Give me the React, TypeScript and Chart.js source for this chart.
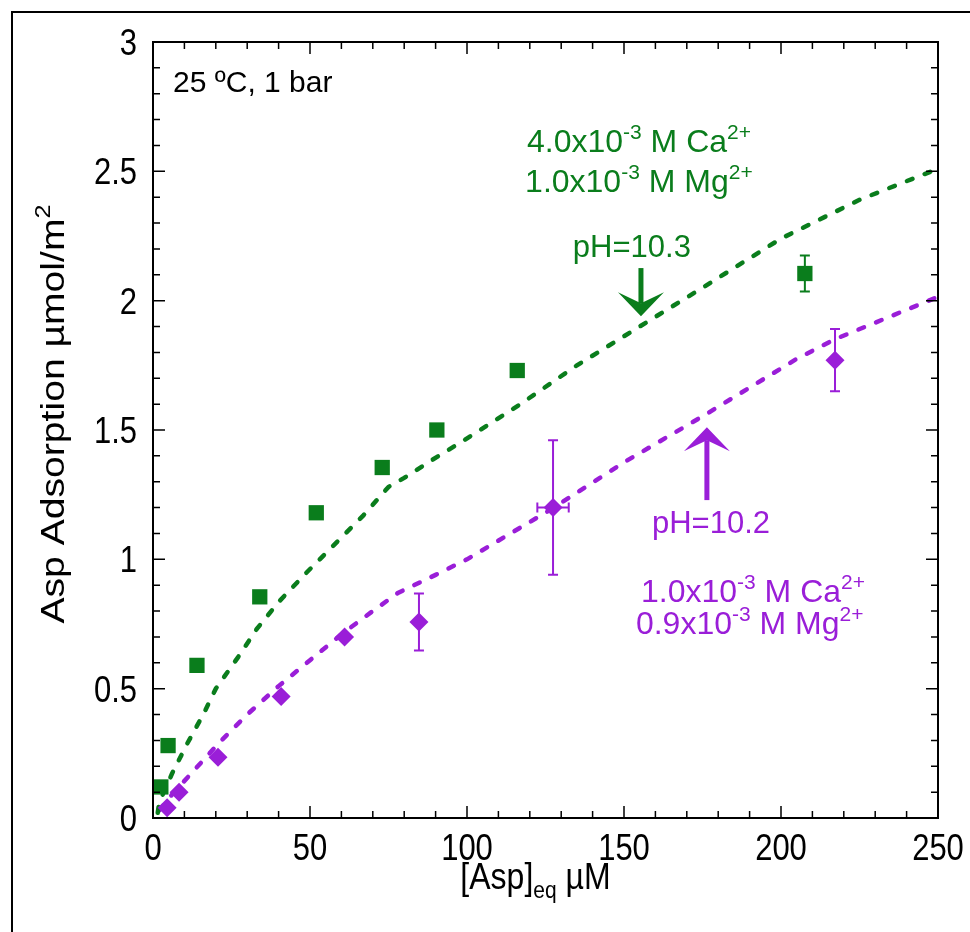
import React, { useEffect, useRef } from 'react';
import { Chart, registerables } from 'chart.js';

Chart.register(...registerables);

// ---------- data ----------
const GREEN = '#0A7D1C';
const PURPLE = '#9A1ED8';
const FONT = "'Liberation Sans', Arial, Helvetica, sans-serif";

const X_MIN = 0;
const X_MAX = 250;
const Y_MIN = 0;
const Y_MAX = 3;
const X_MAJOR = 50;
const X_MINOR = 10;
const Y_MAJOR = 0.5;
const Y_MINOR = 0.1;

// pH 10.3 (green squares)
const greenX = [2.5, 4.8, 14, 34, 52, 73, 90.4, 116, 207.6];
const greenY = [0.12, 0.28, 0.59, 0.855, 1.18, 1.355, 1.5, 1.73, 2.105];
const greenErrY = [0, 0, 0, 0, 0, 0.02, 0, 0, 0.07];
const greenErrX = [0, 0, 0, 0, 0, 0, 0, 0, 0];

// pH 10.2 (purple diamonds)
const purpleX = [4.5, 8.3, 20.7, 40.8, 61, 84.7, 127.4, 217.2];
const purpleY = [0.04, 0.1, 0.235, 0.47, 0.7, 0.758, 1.2, 1.77];
const purpleErrY = [0, 0, 0, 0, 0, 0.11, 0.26, 0.12];
const purpleErrX = [0, 0, 0, 0, 0, 0, 5, 0];

// model curves (dashed)
const greenFitX = [1.5, 2, 6, 11, 16, 20, 27, 33, 40, 49, 58, 67, 75, 80, 89, 99, 117, 135, 155, 175, 200, 225, 250];
const greenFitY = [0.02, 0.06, 0.17, 0.29, 0.4, 0.5, 0.62, 0.73, 0.835, 0.95, 1.06, 1.17, 1.28, 1.315, 1.385, 1.46, 1.6, 1.75, 1.9, 2.05, 2.24, 2.39, 2.51];
const purpleFitX = [2, 6, 12, 21, 30, 40, 50, 60, 70, 78, 90, 100, 127, 150, 176, 205, 217, 250];
const purpleFitY = [0.03, 0.09, 0.17, 0.29, 0.4, 0.51, 0.61, 0.71, 0.8, 0.87, 0.94, 1.0, 1.195, 1.375, 1.56, 1.775, 1.85, 2.015];

// arrows (data coordinates)
const greenArrowX = 155.4;
const greenArrowTail = 2.126;
const greenArrowTip = 1.94;
const purpleArrowX = 176.4;
const purpleArrowTail = 1.229;
const purpleArrowTip = 1.511;

type Seg = { t: string; s?: 'sup' | 'sub' };

// annotations: [x, y] anchors in data coordinates
const condText: Seg[] = [{ t: '25 ºC, 1 bar' }];
const condPos = [6.4, 2.806];
const greenLine1: Seg[] = [{ t: '4.0x10' }, { t: '-3', s: 'sup' }, { t: ' M Ca' }, { t: '2+', s: 'sup' }];
const greenLine1Pos = [119.1, 2.574];
const greenLine2: Seg[] = [{ t: '1.0x10' }, { t: '-3', s: 'sup' }, { t: ' M Mg' }, { t: '2+', s: 'sup' }];
const greenLine2Pos = [118.5, 2.42];
const greenPH: Seg[] = [{ t: 'pH=10.3' }];
const greenPHPos = [152.5, 2.169];
const purplePH: Seg[] = [{ t: 'pH=10.2' }];
const purplePHPos = [177.7, 1.102];
const purpleLine1: Seg[] = [{ t: '1.0x10' }, { t: '-3', s: 'sup' }, { t: ' M Ca' }, { t: '2+', s: 'sup' }];
const purpleLine1Pos = [155.4, 0.835];
const purpleLine2: Seg[] = [{ t: '0.9x10' }, { t: '-3', s: 'sup' }, { t: ' M Mg' }, { t: '2+', s: 'sup' }];
const purpleLine2Pos = [153.8, 0.711];

const xTitle: Seg[] = [{ t: '[Asp]' }, { t: 'eq', s: 'sub' }, { t: ' µM' }];
const yTitle: Seg[] = [{ t: 'Asp Adsorption µmol/m' }, { t: '2', s: 'sup' }];

// ---------- helpers ----------
function segFont(size: number, s?: string) {
  const sz = s ? Math.round(size * 0.66) : size;
  return `${sz}px ${FONT}`;
}

function richWidth(ctx: CanvasRenderingContext2D, segs: Seg[], size: number) {
  let w = 0;
  for (const sg of segs) {
    ctx.font = segFont(size, sg.s);
    w += ctx.measureText(sg.t).width;
  }
  return w;
}

// draws rich text with baseline at (x, y); sx/sy stretch glyphs
function drawRich(
  ctx: CanvasRenderingContext2D,
  segs: Seg[],
  x: number,
  y: number,
  size: number,
  color: string,
  align: 'left' | 'center' = 'left',
  sx = 1,
  sy = 1
) {
  ctx.save();
  ctx.translate(x, y);
  ctx.scale(sx, sy);
  ctx.fillStyle = color;
  ctx.textBaseline = 'alphabetic';
  ctx.textAlign = 'left';
  let cx = 0;
  if (align === 'center') cx = -richWidth(ctx, segs, size) / 2;
  for (const sg of segs) {
    ctx.font = segFont(size, sg.s);
    let dy = 0;
    if (sg.s === 'sup') dy = -size * 0.42;
    if (sg.s === 'sub') dy = size * 0.25;
    ctx.fillText(sg.t, cx, dy);
    cx += ctx.measureText(sg.t).width;
  }
  ctx.restore();
}

function drawErrorBars(
  ctx: CanvasRenderingContext2D,
  xs: number[],
  ys: number[],
  ex: number[],
  ey: number[],
  color: string,
  xs_: any,
  ys_: any
) {
  ctx.save();
  ctx.strokeStyle = color;
  ctx.lineWidth = 2;
  const cap = 5;
  for (let i = 0; i < xs.length; i++) {
    const px = xs_.getPixelForValue(xs[i]);
    const py = ys_.getPixelForValue(ys[i]);
    if (ey[i] > 0) {
      const t = ys_.getPixelForValue(ys[i] + ey[i]);
      const b = ys_.getPixelForValue(ys[i] - ey[i]);
      ctx.beginPath();
      ctx.moveTo(px, t);
      ctx.lineTo(px, b);
      ctx.moveTo(px - cap, t);
      ctx.lineTo(px + cap, t);
      ctx.moveTo(px - cap, b);
      ctx.lineTo(px + cap, b);
      ctx.stroke();
    }
    if (ex[i] > 0) {
      const l = xs_.getPixelForValue(xs[i] - ex[i]);
      const r = xs_.getPixelForValue(xs[i] + ex[i]);
      ctx.beginPath();
      ctx.moveTo(l, py);
      ctx.lineTo(r, py);
      ctx.moveTo(l, py - cap);
      ctx.lineTo(l, py + cap);
      ctx.moveTo(r, py - cap);
      ctx.lineTo(r, py + cap);
      ctx.stroke();
    }
  }
  ctx.restore();
}

function drawArrow(ctx: CanvasRenderingContext2D, px: number, tail: number, tip: number, color: string) {
  const dir = tip > tail ? 1 : -1; // +1 pointing down in pixels
  const headLen = 24;
  const notch = 13;
  const half = 23;
  const shaft = 5;
  ctx.save();
  ctx.fillStyle = color;
  ctx.fillRect(px - shaft / 2, Math.min(tail, tip - dir * notch), shaft, Math.abs(tip - dir * notch - tail));
  ctx.beginPath();
  ctx.moveTo(px, tip);
  ctx.lineTo(px - half, tip - dir * headLen);
  ctx.lineTo(px, tip - dir * notch);
  ctx.lineTo(px + half, tip - dir * headLen);
  ctx.closePath();
  ctx.fill();
  ctx.restore();
}

const TICK_SIZE = 31;
const TICK_SY = 1.18;

const decoPlugin = {
  id: 'deco',
  beforeDatasetsDraw(chart: any) {
    const { ctx, scales } = chart;
    const xs = scales.x;
    const ys = scales.y;
    ctx.save();
    const a = chart.chartArea;
    ctx.beginPath();
    ctx.rect(a.left, a.top, a.right - a.left, a.bottom - a.top);
    ctx.clip();
    drawErrorBars(ctx, greenX, greenY, greenErrX, greenErrY, GREEN, xs, ys);
    drawErrorBars(ctx, purpleX, purpleY, purpleErrX, purpleErrY, PURPLE, xs, ys);
    ctx.restore();
  },
  afterDraw(chart: any) {
    const { ctx, scales, chartArea: a } = chart;
    const xs = scales.x;
    const ys = scales.y;
    const P = (x: number, y: number) => [xs.getPixelForValue(x), ys.getPixelForValue(y)];

    ctx.save();
    // outer figure border
    ctx.strokeStyle = '#000';
    ctx.lineWidth = 2;
    ctx.beginPath();
    ctx.moveTo(12, chart.height);
    ctx.lineTo(12, 12);
    ctx.lineTo(chart.width, 12);
    ctx.stroke();

    // plot frame
    ctx.lineWidth = 2;
    ctx.strokeRect(a.left, a.top, a.right - a.left, a.bottom - a.top);

    // ticks (inward, mirrored)
    ctx.lineWidth = 1.5;
    ctx.beginPath();
    const nx = Math.round((X_MAX - X_MIN) / X_MINOR);
    for (let i = 0; i <= nx; i++) {
      const v = X_MIN + i * X_MINOR;
      const major = Math.abs(v / X_MAJOR - Math.round(v / X_MAJOR)) < 1e-6;
      const L = major ? 12 : 7;
      const px = xs.getPixelForValue(v);
      ctx.moveTo(px, a.bottom);
      ctx.lineTo(px, a.bottom - L);
      ctx.moveTo(px, a.top);
      ctx.lineTo(px, a.top + L);
    }
    const ny = Math.round((Y_MAX - Y_MIN) / Y_MINOR);
    for (let i = 0; i <= ny; i++) {
      const v = Y_MIN + i * Y_MINOR;
      const major = Math.abs(v / Y_MAJOR - Math.round(v / Y_MAJOR)) < 1e-6;
      const L = major ? 12 : 7;
      const py = ys.getPixelForValue(v);
      ctx.moveTo(a.left, py);
      ctx.lineTo(a.left + L, py);
      ctx.moveTo(a.right, py);
      ctx.lineTo(a.right - L, py);
    }
    ctx.stroke();

    // tick labels from the scales' own ticks
    ctx.fillStyle = '#000';
    ctx.font = `${TICK_SIZE}px ${FONT}`;
    ctx.textBaseline = 'alphabetic';
    const half = 0.358 * TICK_SIZE * TICK_SY;
    for (const t of ys.ticks) {
      const py = ys.getPixelForValue(t.value);
      ctx.save();
      ctx.translate(a.left - 16, py + half);
      ctx.scale(1, TICK_SY);
      ctx.textAlign = 'right';
      ctx.fillText(String(t.label), 0, 0);
      ctx.restore();
    }
    for (const t of xs.ticks) {
      const px = xs.getPixelForValue(t.value);
      ctx.save();
      ctx.translate(px, a.bottom + 29 + half);
      ctx.scale(1, TICK_SY);
      ctx.textAlign = 'center';
      ctx.fillText(String(t.label), 0, 0);
      ctx.restore();
    }

    // axis titles
    drawRich(ctx, xTitle, (a.left + a.right) / 2 - 10, 889, 32, '#000', 'center', 1, TICK_SY);
    ctx.save();
    ctx.translate(64, 414);
    ctx.rotate(-Math.PI / 2);
    drawRich(ctx, yTitle, 0, 0, 34, '#000', 'center', 1.15, 1);
    ctx.restore();

    // annotations
    let p = P(condPos[0], condPos[1]);
    drawRich(ctx, condText, p[0], p[1], 30, '#000');
    p = P(greenLine1Pos[0], greenLine1Pos[1]);
    drawRich(ctx, greenLine1, p[0], p[1], 32, GREEN);
    p = P(greenLine2Pos[0], greenLine2Pos[1]);
    drawRich(ctx, greenLine2, p[0], p[1], 32, GREEN);
    p = P(greenPHPos[0], greenPHPos[1]);
    drawRich(ctx, greenPH, p[0], p[1], 31, GREEN, 'center');
    p = P(purplePHPos[0], purplePHPos[1]);
    drawRich(ctx, purplePH, p[0], p[1], 31, PURPLE, 'center');
    p = P(purpleLine1Pos[0], purpleLine1Pos[1]);
    drawRich(ctx, purpleLine1, p[0], p[1], 32, PURPLE);
    p = P(purpleLine2Pos[0], purpleLine2Pos[1]);
    drawRich(ctx, purpleLine2, p[0], p[1], 32, PURPLE);

    // arrows
    drawArrow(ctx, xs.getPixelForValue(greenArrowX), ys.getPixelForValue(greenArrowTail), ys.getPixelForValue(greenArrowTip), GREEN);
    drawArrow(ctx, xs.getPixelForValue(purpleArrowX), ys.getPixelForValue(purpleArrowTail), ys.getPixelForValue(purpleArrowTip), PURPLE);
    ctx.restore();
  },
};

function toPts(xs: number[], ys: number[]) {
  return xs.map((x, i) => ({ x, y: ys[i] }));
}

export default function App() {
  const ref = useRef<HTMLCanvasElement | null>(null);

  useEffect(() => {
    document.body.style.margin = '0';
    const canvas = ref.current;
    if (!canvas) return;
    const chart = new Chart(canvas, {
      type: 'scatter',
      data: {
        datasets: [
          {
            label: 'pH=10.3 data',
            data: toPts(greenX, greenY),
            pointStyle: 'rect',
            pointRadius: 10.8,
            pointHoverRadius: 10.8,
            backgroundColor: GREEN,
            borderColor: GREEN,
            borderWidth: 0,
            showLine: false,
          },
          {
            label: 'pH=10.2 data',
            data: toPts(purpleX, purpleY),
            pointStyle: 'rectRot',
            pointRadius: 9.5,
            pointHoverRadius: 9.5,
            backgroundColor: PURPLE,
            borderColor: PURPLE,
            borderWidth: 0,
            showLine: false,
          },
          {
            label: 'pH=10.3 model',
            data: toPts(greenFitX, greenFitY),
            showLine: true,
            pointRadius: 0,
            borderColor: GREEN,
            borderWidth: 4.5,
            borderDash: [6, 13],
            borderCapStyle: 'round',
            tension: 0,
            fill: false,
          },
          {
            label: 'pH=10.2 model',
            data: toPts(purpleFitX, purpleFitY),
            showLine: true,
            pointRadius: 0,
            borderColor: PURPLE,
            borderWidth: 4.5,
            borderDash: [6, 13],
            borderCapStyle: 'round',
            tension: 0,
            fill: false,
          },
        ] as any,
      },
      options: {
        animation: false,
        responsive: false,
        maintainAspectRatio: false,
        devicePixelRatio: 1,
        layout: { padding: { top: 42, right: 32, left: 0, bottom: 0 } },
        plugins: {
          legend: { display: false },
          tooltip: { enabled: false },
          title: { display: false },
        },
        scales: {
          x: {
            type: 'linear',
            min: X_MIN,
            max: X_MAX,
            grid: { display: false, drawTicks: false },
            border: { display: false },
            ticks: {
              stepSize: X_MAJOR,
              display: false,
              callback: (v: number) => String(v),
            },
            afterFit: (s: any) => {
              s.height = 114;
            },
          },
          y: {
            type: 'linear',
            min: Y_MIN,
            max: Y_MAX,
            grid: { display: false, drawTicks: false },
            border: { display: false },
            ticks: {
              stepSize: Y_MAJOR,
              display: false,
              callback: (v: number) => String(Math.round(v * 10) / 10),
            },
            afterFit: (s: any) => {
              s.width = 153;
            },
          },
        },
      } as any,
      plugins: [decoPlugin],
    });
    return () => chart.destroy();
  }, []);

  return (
    <div style={{ width: 970, height: 932, background: '#fff' }}>
      <canvas ref={ref} width={970} height={932} style={{ display: 'block' }} />
    </div>
  );
}
